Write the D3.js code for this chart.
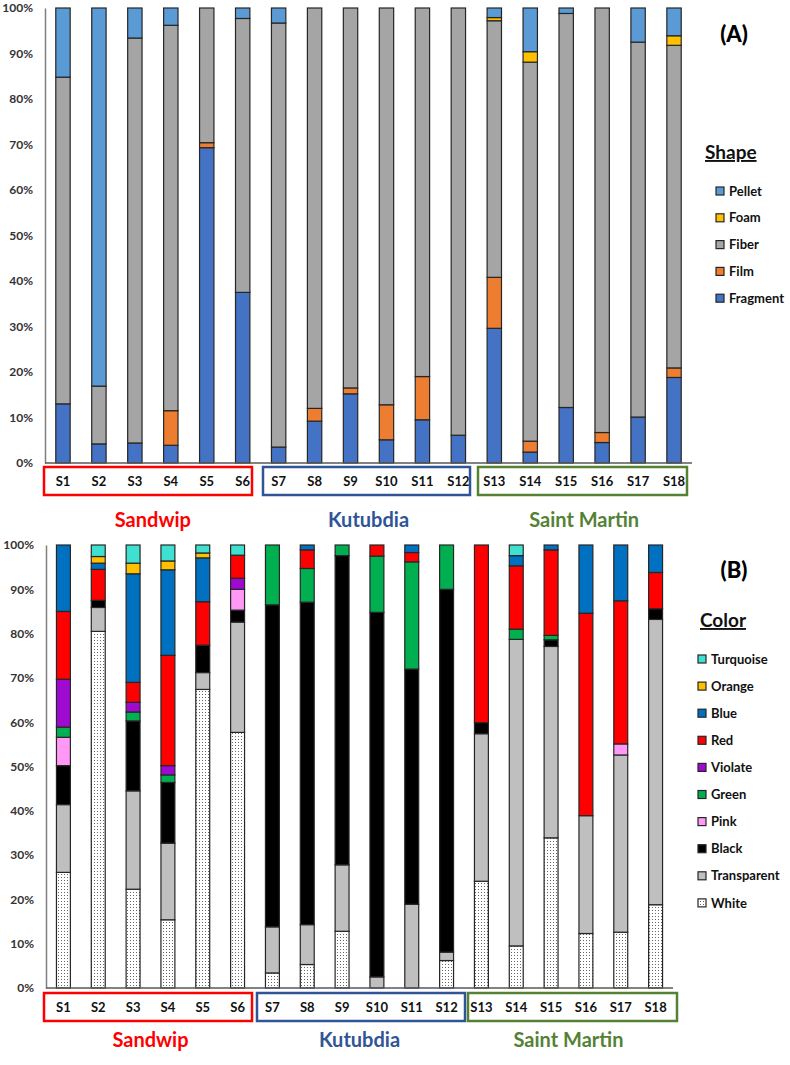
<!DOCTYPE html>
<html>
<head>
<meta charset="utf-8">
<script src="https://cdn.jsdelivr.net/npm/d3@7"></script>
<style>
  html, body { margin: 0; padding: 0; background: #fff; }
  svg { display: block; font-family: Lato, "Open Sans", sans-serif; }
</style>
</head>
<body>
<svg id="chart" width="790" height="1065"></svg>
<script>
// ---------------- DATA ----------------
const sites = ["S1","S2","S3","S4","S5","S6","S7","S8","S9","S10","S11","S12","S13","S14","S15","S16","S17","S18"];
const percentTicks = [0,10,20,30,40,50,60,70,80,90,100];

// Panel A – shape (stack order bottom -> top)
const shapeKeys = ["Fragment","Film","Fiber","Foam","Pellet"];
const fragment = [13.0, 4.2, 4.4, 3.9,69.3,37.5, 3.5, 9.2,15.2, 5.1, 9.5, 6.1,29.6, 2.4,12.2, 4.5,10.1,18.8];
const film     = [ 0,   0,   0,   7.6, 1.1, 0,   0,   2.8, 1.3, 7.7, 9.5, 0,  11.2, 2.4, 0,   2.2, 0,   2.1];
const fiber    = [71.8,12.7,89.0,84.7,29.6,60.2,93.2,88.0,83.5,87.2,81.0,93.9,56.4,83.3,86.6,93.3,82.4,70.9];
const foam     = [ 0,   0,   0,   0,   0,   0,   0,   0,   0,   0,   0,   0,   0.7, 2.3, 0,   0,   0,   2.1];
const pellet   = [15.2,83.1, 6.6, 3.8, 0,   2.3, 3.3, 0,   0,   0,   0,   0,   2.1, 9.6, 1.2, 0,   7.5, 6.1];
const shapeColors = ["#4472C4","#ED7D31","#A5A5A5","#FFC000","#5B9BD5"];

// Panel B – colour (stack order bottom -> top)
const colorKeys = ["White","Transparent","Black","Pink","Green","Violate","Red","Blue","Orange","Turquoise"];
const white       = [26.1,80.5,22.3,15.4,67.4,57.7, 3.4, 5.3,12.8, 0,   0,   6.2,24.1, 9.5,33.9,12.3,12.6,18.8];
const transparent = [15.3, 5.4,22.2,17.3, 3.8,24.9,10.4, 9.0,15.0, 2.5,18.9, 1.9,33.3,69.2,43.2,26.6,40.0,64.4];
const black       = [ 8.8, 1.6,15.8,13.7, 6.2, 2.7,72.7,72.8,69.8,82.3,53.1,81.9, 2.5, 0,   1.5, 0,   0,   2.4];
const pink        = [ 6.4, 0,   0,   0,   0,   4.7, 0,   0,   0,   0,   0,   0,   0,   0,   0,   0,   2.5, 0  ];
const green       = [ 2.3, 0,   2.0, 1.7, 0,   0,  13.5, 7.6, 2.4,12.7,24.2,10.0, 0,   2.3, 1.0, 0,   0,   0  ];
const violate     = [10.8, 0,   2.2, 2.1, 0,   2.5, 0,   0,   0,   0,   0,   0,   0,   0,   0,   0,   0,   0  ];
const red         = [15.3, 7.0, 4.5,24.9, 9.8, 5.2, 0,   4.2, 0,   2.5, 2.1, 0,  40.1,14.3,19.3,45.7,32.3, 8.2];
const blue        = [15.0, 1.4,24.5,19.3, 9.9, 0,   0,   1.1, 0,   0,   1.7, 0,   0,   2.3, 1.1,15.4,12.6, 6.2];
const orange      = [ 0,   1.5, 2.4, 2.0, 1.1, 0,   0,   0,   0,   0,   0,   0,   0,   0,   0,   0,   0,   0  ];
const turquoise   = [ 0,   2.6, 4.1, 3.6, 1.8, 2.3, 0,   0,   0,   0,   0,   0,   0,   2.4, 0,   0,   0,   0  ];
const colorColors = ["url(#dots)","#BFBFBF","#000000","#FF99F5","#00B050","#9E0ACF","#FF0000","#0070C0","#FFC000","#40E0D0"];

// Groups
const groupNames  = ["Sandwip","Kutubdia","Saint Martin"];
const groupStart  = ["S1","S7","S13"];
const groupEnd    = ["S6","S12","S18"];
const groupColors = ["#FF0000","#2F5597","#548235"];

// ---------------- DRAW ----------------
const svg = d3.select("#chart");
const defs = svg.append("defs");
const pat = defs.append("pattern").attr("id","dots").attr("patternUnits","userSpaceOnUse")
  .attr("width",3).attr("height",3);
pat.append("rect").attr("width",3).attr("height",3).attr("fill","#fff");
pat.append("rect").attr("x",1).attr("y",1).attr("width",1).attr("height",1).attr("fill","#666");

function buildRows(keys, arrays) {
  return sites.map((s, i) => {
    const r = { site: s };
    keys.forEach((k, j) => r[k] = arrays[j][i]);
    return r;
  });
}

function drawPanel(opt) {
  const g = svg.append("g");
  const x = d3.scaleBand().domain(sites).range([opt.x0, opt.x1]).paddingInner(0.6).paddingOuter(0.3);
  const y = d3.scaleLinear().domain([0,100]).range([opt.yb, opt.yt]);
  const rows = buildRows(opt.keys, opt.arrays);
  const series = d3.stack().keys(opt.keys)(rows);

  // y axis labels
  const ya = g.append("g").attr("transform", `translate(${opt.x0},0)`)
    .call(d3.axisLeft(y).tickValues(percentTicks).tickFormat(d => d + "%").tickSize(0).tickPadding(12));
  ya.select(".domain").attr("stroke","#7f7f7f").attr("stroke-width",1.5);
  ya.selectAll("text").attr("font-size",12).attr("font-weight",700).attr("fill","#333")
    .attr("font-family","Lato, sans-serif");

  // bars
  series.forEach((s, si) => {
    g.append("g").attr("fill", opt.colors[si])
      .selectAll("rect").data(s.filter(d => d[1] - d[0] > 0)).join("rect")
      .attr("x", d => x(d.data.site))
      .attr("width", x.bandwidth())
      .attr("y", d => y(d[1]))
      .attr("height", d => y(d[0]) - y(d[1]))
      .attr("stroke", "#262626").attr("stroke-width", 1.2);
  });

  // x axis baseline
  g.append("line").attr("x1", opt.x0).attr("x2", opt.x1).attr("y1", opt.yb).attr("y2", opt.yb)
    .attr("stroke","#595959").attr("stroke-width",1.5);

  // x tick labels
  const xa = g.append("g").attr("transform", `translate(0,${opt.labY})`)
    .call(d3.axisBottom(x).tickSize(0).tickPadding(0));
  xa.select(".domain").remove();
  xa.selectAll("text").attr("font-size",13).attr("font-weight",700).attr("fill","#111")
    .attr("font-family","Lato, sans-serif").attr("dy","0.35em").attr("y",0);

  // group boxes + names
  groupNames.forEach((name, gi) => {
    const bx0 = opt.boxX[gi][0], bx1 = opt.boxX[gi][1];
    g.append("rect").attr("x", bx0).attr("y", opt.boxY0).attr("width", bx1 - bx0)
      .attr("height", opt.boxY1 - opt.boxY0).attr("fill","none")
      .attr("stroke", groupColors[gi]).attr("stroke-width", 2.5);
    const cx = (x(groupStart[gi]) + x(groupEnd[gi]) + x.bandwidth()) / 2;
    g.append("text").attr("x", cx).attr("y", opt.nameY).attr("text-anchor","middle")
      .attr("font-size",20).attr("font-weight",700).attr("fill",groupColors[gi]).text(name);
  });

  // panel letter
  g.append("text").attr("x", 734).attr("y", opt.letterY).attr("text-anchor","middle")
    .attr("font-size",22).attr("font-weight",900).attr("fill","#000").text(opt.letter);

  // legend
  g.append("text").attr("x", opt.legTitleX).attr("y", opt.legTitleY)
    .attr("font-size",19).attr("font-weight",700).attr("fill","#111")
    .attr("text-decoration","underline").text(opt.legTitle);
  const legKeys = opt.keys.slice().reverse();
  const legCols = opt.colors.slice().reverse();
  legKeys.forEach((k, i) => {
    const cy = opt.legY0 + i * opt.legStep;
    g.append("rect").attr("x", opt.legSqX).attr("y", cy - 4).attr("width",8).attr("height",8)
      .attr("fill", legCols[i]).attr("stroke","#262626").attr("stroke-width",1.2);
    g.append("text").attr("x", opt.legSqX + 13).attr("y", cy).attr("dy","0.36em")
      .attr("font-size",13).attr("font-weight",700).attr("fill","#111").text(k);
  });
}

drawPanel({
  keys: shapeKeys,
  arrays: [fragment, film, fiber, foam, pellet],
  colors: shapeColors,
  x0: 45, x1: 692, yt: 8, yb: 463,
  labY: 481, boxY0: 467, boxY1: 495,
  boxX: [[44,252],[263,470],[478,687]],
  nameY: 527, letter: "(A)", letterY: 42,
  legTitle: "Shape", legTitleX: 705, legTitleY: 159,
  legSqX: 716, legY0: 191, legStep: 26.8
});

drawPanel({
  keys: colorKeys,
  arrays: [white, transparent, black, pink, green, violate, red, blue, orange, turquoise],
  colors: colorColors,
  x0: 46, x1: 673, yt: 545, yb: 988,
  labY: 1007, boxY0: 993, boxY1: 1021,
  boxX: [[44,252],[257,465],[468,677]],
  nameY: 1047, letter: "(B)", letterY: 578,
  legTitle: "Color", legTitleX: 700, legTitleY: 627,
  legSqX: 698, legY0: 659, legStep: 27.1
});
</script>
</body>
</html>
